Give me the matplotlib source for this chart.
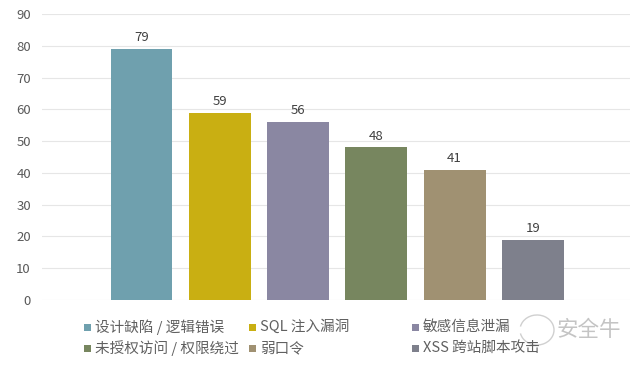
import matplotlib
matplotlib.use("Agg")
import matplotlib.pyplot as plt
from matplotlib.patches import Rectangle, Arc

plt.rcParams['font.family'] = ['Noto Sans CJK SC', 'DejaVu Sans']

categories = ["设计缺陷 / 逻辑错误", "SQL 注入漏洞", "敏感信息泄漏",
              "未授权访问 / 权限绕过", "弱口令", "XSS 跨站脚本攻击"]
values = [79, 59, 56, 48, 41, 19]
colors = ["#6FA0AE", "#C9AF12", "#8A87A2", "#77865F", "#A09172", "#7E808C"]
yticks = [0, 10, 20, 30, 40, 50, 60, 70, 80, 90]

W, H = 640, 366
fig = plt.figure(figsize=(W/100, H/100), dpi=100)
ax = fig.add_axes([42/W, (H-300)/H, (630-42)/W, (300-14)/H])

x = list(range(len(values)))
ax.bar(x, values, width=0.79, color=colors, zorder=3)
for xi, v in zip(x, values):
    ax.text(xi, v + 1.5, str(v), ha='center', va='bottom', fontsize=9.5, color='#404040')

ax.set_xlim(-1.27, 6.24)
ax.set_ylim(0, 90)
ax.set_yticks(yticks)
ax.set_yticklabels([str(t) for t in yticks], fontsize=9.5, color='#595959')
ax.set_xticks([])
ax.grid(axis='y', color='#E6E6E6', linewidth=0.8, zorder=0)
for s in ax.spines.values():
    s.set_visible(False)
ax.tick_params(axis='y', length=0, pad=8)

# legend drawn manually: 3 columns, row-major order
col_x = [87, 252, 415]
row_y = [327, 348]
msize = 7
for i, (lab, c) in enumerate(zip(categories, colors)):
    r, k = divmod(i, 3)
    cx, cy = col_x[k], row_y[r]
    fig.patches.append(Rectangle(((cx - msize/2)/W, 1 - (cy + msize/2)/H),
                                 msize/W, msize/H, facecolor=c, edgecolor='none',
                                 transform=fig.transFigure, figure=fig))
    fig.text((cx + 8)/W, 1 - cy/H, lab, fontsize=10.5, color='#606060',
             va='center', ha='left')

# watermark
fig.patches.append(Arc((537/W, 1 - 330/H), 34/W, 30/H, theta1=200, theta2=520,
                       color='#D0D0D0', linewidth=1.0, transform=fig.transFigure,
                       figure=fig))
fig.text(557/W, 1 - 330/H, "安全牛", fontsize=15.5, color='#C4C4C4', va='center', ha='left')

fig.savefig("out.png", dpi=100, facecolor='white')
